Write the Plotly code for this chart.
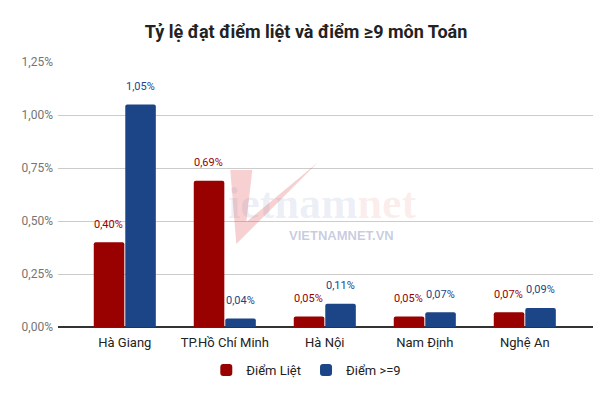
import plotly.graph_objects as go

categories = ["Hà Giang", "TP.Hồ Chí Minh", "Hà Nội", "Nam Định", "Nghệ An"]
diem_liet = [0.40, 0.69, 0.05, 0.05, 0.07]
diem_9 = [1.05, 0.04, 0.11, 0.07, 0.09]
series_names = ["Điểm Liệt", "Điểm >=9"]
y_ticks = [0, 0.25, 0.5, 0.75, 1.0, 1.25]
title_text = "Tỷ lệ đạt điểm liệt và điểm ≥9 môn Toán"

RED = "#990000"
BLUE = "#1c4587"


def pct(v):
    return f"{v:.2f}".replace(".", ",") + "%"


fig = go.Figure()
fig.add_trace(go.Bar(x=categories, y=diem_liet, name=series_names[0],
                     marker=dict(color=RED, line=dict(width=0)), hoverinfo="skip"))
fig.add_trace(go.Bar(x=categories, y=diem_9, name=series_names[1],
                     marker=dict(color=BLUE, line=dict(width=0)), hoverinfo="skip"))

annotations = []
for vals, color, shift in [(diem_liet, RED, -16), (diem_9, BLUE, 16)]:
    for c, v in zip(categories, vals):
        annotations.append(dict(x=c, y=v, xref="x", yref="y", text=pct(v), showarrow=False,
                                xshift=shift, yshift=18, yanchor="middle",
                                font=dict(family="Roboto", size=11, color=color)))

# page offset (browser body margin)
OFF = 8
W, H = 612 - 2 * OFF, 397 - 2 * OFF

# plot area in page pixels
L, R, T, B = 57.7, 592.7, 62, 327


def px(xp):
    return (xp - L) / (R - L)


def py(yp):
    return (B - yp) / (B - T)


# watermark (decorative)
annotations.append(dict(xref="paper", yref="paper", x=px(322), y=py(203), showarrow=False,
                        text="<b><span style='color:rgba(70,85,160,0.32)'>ietnam</span>"
                             "<span style='color:rgba(225,70,70,0.30)'>net</span></b>",
                        font=dict(family="Liberation Serif", size=44, color="rgba(70,85,160,0.32)")))
annotations.append(dict(xref="paper", yref="paper", x=px(341), y=py(235), showarrow=False,
                        text="<b>VIETNAMNET.VN</b>",
                        font=dict(family="Liberation Sans", size=13, color="rgba(110,120,175,0.38)")))

v_path = "M {} {} L {} {} L {} {} L {} {} L {} {} Z".format(
    px(230), py(170), px(252), py(170), px(246), py(222), px(318), py(162), px(236), py(244))

fig.update_layout(
    width=W, height=H,
    margin=dict(l=L - OFF, r=W - (R - OFF), t=T - OFF, b=H - (B - OFF), autoexpand=False),
    paper_bgcolor="white", plot_bgcolor="white",
    barmode="group", bargap=0.37, bargroupgap=0.03, barcornerradius=2,
    title=dict(text="<b>" + title_text + "</b>", x=0.5, xanchor="center",
               y=1 - (31.7 - OFF) / H, yanchor="middle", yref="container",
               font=dict(family="Roboto", size=18, color="#222222")),
    font=dict(family="Roboto"),
    xaxis=dict(range=[-0.668, 4.682], showgrid=False, showline=False, ticks="",
               tickangle=0, automargin=False, ticklabelstandoff=6,
               tickfont=dict(family="Roboto", size=13, color="#222222"), fixedrange=True),
    yaxis=dict(range=[0, 1.25], tickvals=y_ticks, ticktext=[pct(v) for v in y_ticks],
               showgrid=True, gridcolor="#cccccc", gridwidth=1, automargin=False,
               zeroline=True, zerolinecolor="#333333", zerolinewidth=1.5,
               showline=False, ticks="", ticklabelstandoff=4,
               tickfont=dict(family="Roboto", size=12, color="#757575"), fixedrange=True),
    legend=dict(orientation="h", x=px(306), xanchor="center",
                y=py(370), yanchor="middle", font=dict(family="Roboto", size=13, color="#222222"),
                traceorder="normal"),
    annotations=annotations,
    shapes=[dict(type="path", path=v_path, xref="paper", yref="paper",
                 fillcolor="rgba(225,70,70,0.25)", line=dict(width=0), layer="above")],
)

fig.write_html("out.html")
